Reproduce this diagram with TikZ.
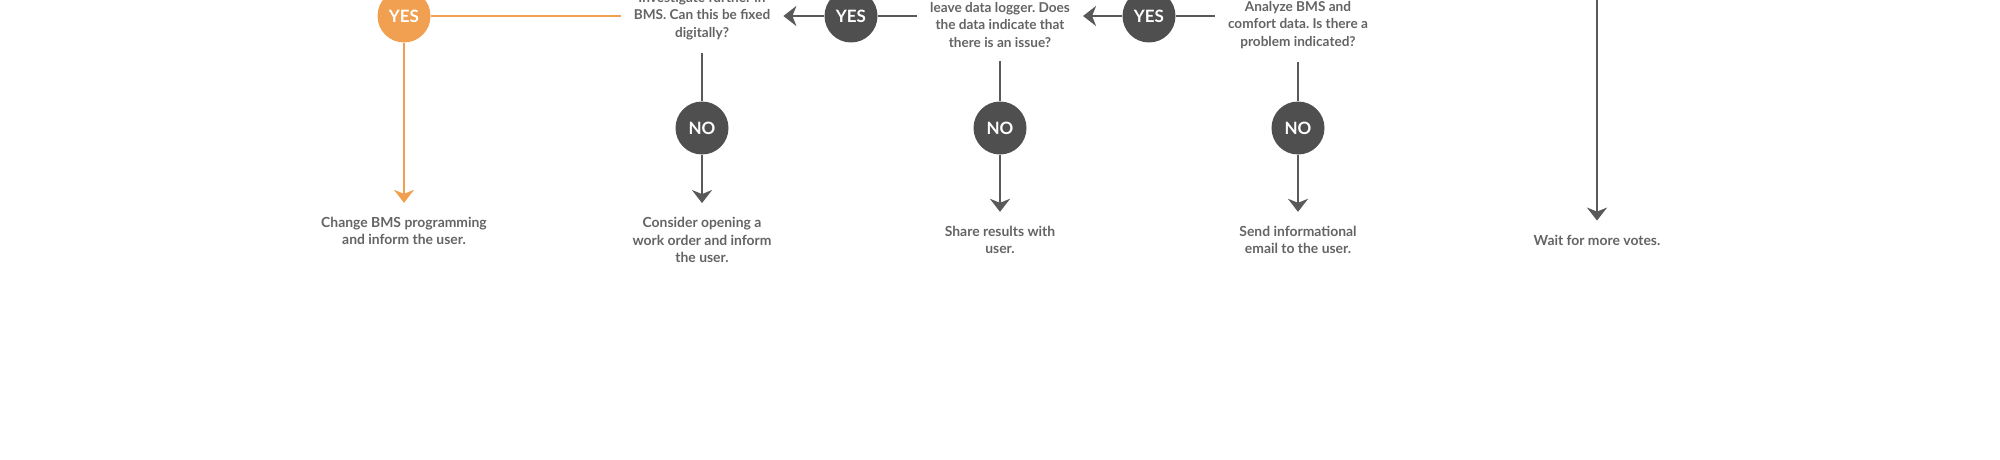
\documentclass[tikz,border=0pt]{standalone}
\usepackage{fontspec}
\setmainfont{Lato}
\usetikzlibrary{positioning}
\usetikzlibrary{arrows.meta}
\definecolor{darkgrey}{HTML}{4F4F4F}
\definecolor{linegrey}{HTML}{595959}
\definecolor{textgrey}{HTML}{646464}
\definecolor{voteorange}{HTML}{F0A050}
\frenchspacing

\begin{document}
\begin{tikzpicture}[x=1pt,y=-1pt,
  question/.style={align=center,text=textgrey,font=\bfseries\fontsize{13.6}{17.5}\selectfont,inner xsep=13pt,inner ysep=13pt},
  answer/.style={align=center,text=textgrey,font=\bfseries\fontsize{13.9}{17.5}\selectfont,inner sep=14pt},
  decision/.style={circle,fill=darkgrey,text=white,minimum size=53pt,inner sep=0pt,font=\bfseries\fontsize{17}{17}\selectfont},
  yesfix/.style={decision,fill=voteorange},
  link/.style={draw=linegrey,line width=2.4pt},
  flow/.style={link,-{Stealth[length=13pt,width=20pt,inset=4pt]}},
  orangeflow/.style={flow,draw=voteorange},
]
\useasboundingbox (0,0) rectangle (2000,460);
\clip (0,0) rectangle (2000,460);

% questions
\node (q2) at (702,16) [question] {Investigate further in\\BMS. Can this be fixed\\digitally?};
\node (q3) at (1000,25) [question] {leave data logger. Does\\the data indicate that\\there is an issue?};
\node (q4) at (1298,25) [question] {Analyze BMS and\\comfort data. Is there a\\problem indicated?};

% yes / no
\node (yesfix) at (404,16) [yesfix] {YES};
\node (yes3) at (851,16) [decision] {YES};
\node (yes4) at (1149,16) [decision] {YES};
\node (no2) at (702,128) [decision] {NO};
\node (no3) at (1000,128) [decision] {NO};
\node (no4) at (1298,128) [decision] {NO};

% outcomes
\node (r1) at (404,231) [answer] {Change BMS programming\\and inform the user.};
\node (r2) at (702,240) [answer] {Consider opening a\\work order and inform\\the user.};
\node (r3) at (1000,240) [answer] {Share results with\\user.};
\node (r4) at (1298,240) [answer] {Send informational\\email to the user.};
\node (r5) at (1597,240) [answer] {Wait for more votes.};
\coordinate (wait) at (1597,0);

% connectors
\draw[orangeflow] (yesfix) -- (r1);
\draw[link,draw=voteorange] (q2.west |- yesfix) -- (yesfix);
\draw[link] (q3.west |- yes3) -- (yes3);
\draw[flow] (yes3) -- (q2.east |- yes3);
\draw[link] (q4.west |- yes4) -- (yes4);
\draw[flow] (yes4) -- (q3.east |- yes4);

\draw[link] (q2) -- (no2);
\draw[link] (q3) -- (no3);
\draw[link] (q4) -- (no4);
\draw[flow] (no2) -- (r2);
\draw[flow] (no3) -- (r3);
\draw[flow] (no4) -- (r4);
\draw[flow] (wait) -- (r5);
\end{tikzpicture}
\end{document}
